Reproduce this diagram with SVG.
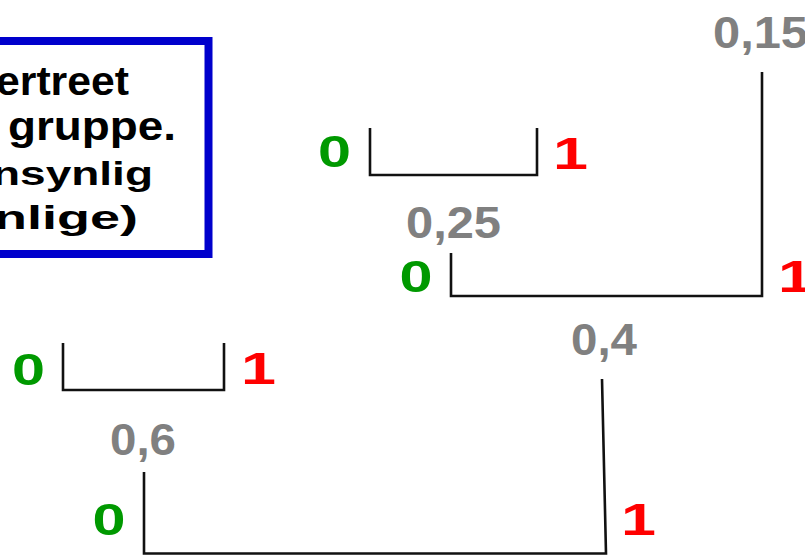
<svg xmlns="http://www.w3.org/2000/svg" width="805" height="556" viewBox="0 0 805 556">
<style>
text{font-family:"Liberation Sans",Arial,sans-serif;font-weight:bold}
.v{fill:#808080;font-size:44px}
.z{fill:#009900;font-size:44px;text-anchor:middle}
.o{fill:#ff0000;font-size:44px;text-anchor:middle}
.b{fill:#000000}
.ln{fill:none;stroke:#111111;stroke-width:2.6}
</style>
<rect width="805" height="556" fill="#ffffff"/>
<g id="note">
<rect x="-20" y="41" width="228.5" height="213" fill="#ffffff" stroke="#0000cc" stroke-width="8"/>
<text class="b" x="-4" y="95" font-size="40" textLength="133" lengthAdjust="spacingAndGlyphs">ertreet</text>
<text class="b" x="8" y="140" font-size="40" textLength="168" lengthAdjust="spacingAndGlyphs">gruppe.</text>
<text class="b" x="-8" y="185" font-size="34" textLength="161" lengthAdjust="spacingAndGlyphs">nsynlig</text>
<text class="b" x="-6" y="229" font-size="34" textLength="144" lengthAdjust="spacingAndGlyphs">nlige)</text>
</g>
<g id="connectors">
<path class="ln" d="M370,128 V175 H537 V128"/>
<path class="ln" d="M451,253 V296 H762 V72"/>
<path class="ln" d="M63,343 V390 H224 V343"/>
<path class="ln" d="M144,472 V553.5 H606 L602,379"/>
</g>
<g id="node-015"><text class="v" x="713" y="48" textLength="95" lengthAdjust="spacingAndGlyphs">0,15</text></g>
<g id="node-025"><text class="v" x="406" y="238" textLength="95" lengthAdjust="spacingAndGlyphs">0,25</text></g>
<g id="node-04"><text class="v" x="571" y="355" textLength="66" lengthAdjust="spacingAndGlyphs">0,4</text></g>
<g id="node-06"><text class="v" x="110" y="455" textLength="66" lengthAdjust="spacingAndGlyphs">0,6</text></g>
<g id="leaf-a">
<text class="z" x="334.5" y="167" textLength="33" lengthAdjust="spacingAndGlyphs">0</text>
<text class="o" x="570.5" y="168.5" textLength="35" lengthAdjust="spacingAndGlyphs">1</text>
</g>
<g id="leaf-b">
<text class="z" x="416" y="292" textLength="33" lengthAdjust="spacingAndGlyphs">0</text>
<text class="o" x="795.5" y="292" textLength="35" lengthAdjust="spacingAndGlyphs">1</text>
</g>
<g id="leaf-c">
<text class="z" x="28.5" y="385" textLength="33" lengthAdjust="spacingAndGlyphs">0</text>
<text class="o" x="258.5" y="383.5" textLength="35" lengthAdjust="spacingAndGlyphs">1</text>
</g>
<g id="leaf-d">
<text class="z" x="109" y="535" textLength="33" lengthAdjust="spacingAndGlyphs">0</text>
<text class="o" x="638.5" y="535" textLength="35" lengthAdjust="spacingAndGlyphs">1</text>
</g>
</svg>
